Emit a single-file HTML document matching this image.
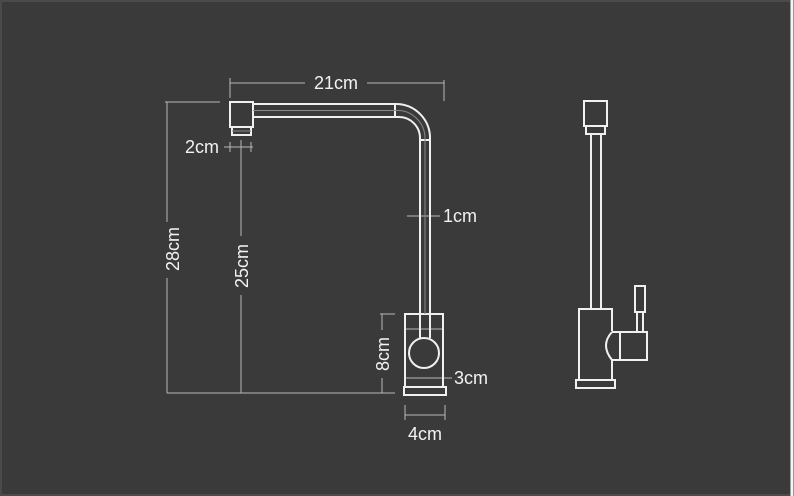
<!DOCTYPE html>
<html><head><meta charset="utf-8"><style>
html,body{margin:0;padding:0;background:#3a3a3a;}
svg{display:block;}
text{font-family:"Liberation Sans",sans-serif;fill:#f2f2f2;font-size:18px;}
</style></head><body>
<svg width="794" height="496" viewBox="0 0 794 496" xmlns="http://www.w3.org/2000/svg">
<rect x="0" y="0" width="794" height="496" fill="#3a3a3a"/>
<rect x="0.5" y="0.5" width="791" height="495" fill="none" stroke="#4a4a4a" stroke-width="3"/>
<line x1="792" y1="0" x2="792" y2="496" stroke="#f5f5f5" stroke-width="3"/>
<g fill="none" stroke="#b8b8b8" stroke-width="1">
 <line x1="230" y1="83" x2="305" y2="83"/><line x1="367" y1="83" x2="444" y2="83"/>
 <line x1="230" y1="78" x2="230" y2="98"/><line x1="444" y1="80" x2="444" y2="101"/>
 <line x1="165" y1="102" x2="220" y2="102"/>
 <line x1="167" y1="102" x2="167" y2="222"/><line x1="167" y1="278" x2="167" y2="393"/>
 <line x1="167" y1="393" x2="395" y2="393"/>
 <line x1="241" y1="140" x2="241" y2="236"/><line x1="241" y1="295" x2="241" y2="393"/>
 <line x1="224" y1="147" x2="253" y2="147"/>
 <line x1="230" y1="142" x2="230" y2="152"/><line x1="251" y1="142" x2="251" y2="152"/>
 <line x1="407" y1="216" x2="440" y2="216"/>
 <line x1="380" y1="314" x2="395" y2="314"/>
 <line x1="382" y1="314" x2="382" y2="330"/><line x1="382" y1="378" x2="382" y2="393"/>
 <line x1="405" y1="378" x2="452" y2="378"/>
 <line x1="405" y1="329" x2="443" y2="329"/>
 <line x1="405" y1="405" x2="405" y2="420"/><line x1="445" y1="405" x2="445" y2="420"/>
 <line x1="405" y1="415" x2="445" y2="415"/>
</g>
<g fill="none" stroke="#f0f0f0" stroke-width="2">
 <rect x="230" y="102" width="23" height="25"/>
 <rect x="232" y="127" width="19" height="8"/>
 <path d="M253 104 H396 A34 34 0 0 1 430 138 V314"/>
 <path d="M253 117 H399 A21 21 0 0 1 420 138 V314"/>
 <line x1="395" y1="104" x2="395" y2="117"/>
 <line x1="420" y1="140" x2="430" y2="140"/>
 <rect x="405" y="314" width="38" height="73"/>
 <rect x="404" y="387" width="42" height="8"/>
 <line x1="420" y1="314" x2="420" y2="338"/><line x1="430" y1="314" x2="430" y2="338"/>
 <circle cx="424" cy="353" r="15"/>
 <rect x="584" y="101" width="23" height="25"/>
 <rect x="586" y="126" width="19" height="8"/>
 <line x1="591" y1="134" x2="591" y2="309"/><line x1="601" y1="134" x2="601" y2="309"/>
 <path d="M612 331 V309 H579 V380 H612 V360"/>
 <rect x="576" y="380" width="39" height="8"/>
 <path d="M612 332 H620 M612 332 Q600 345 612 360 H620"/>
 <rect x="620" y="332" width="27" height="28"/>
 <rect x="635" y="286" width="10" height="26"/>
 <line x1="637" y1="312" x2="637" y2="332"/><line x1="643" y1="312" x2="643" y2="332"/>
</g>
<g stroke="#8a8a8a" stroke-width="1" fill="none">
 <line x1="253" y1="110.5" x2="395" y2="110.5"/>
 <path d="M395 110.5 A28 28 0 0 1 425 138 V314"/>
 <line x1="232" y1="131" x2="251" y2="131"/>
</g>
<text x="336" y="89" text-anchor="middle">21cm</text>
<text x="202" y="153" text-anchor="middle">2cm</text>
<text x="443" y="222">1cm</text>
<text x="454" y="384">3cm</text>
<text x="425" y="440" text-anchor="middle">4cm</text>
<text transform="translate(179,249) rotate(-90)" text-anchor="middle">28cm</text>
<text transform="translate(248,266) rotate(-90)" text-anchor="middle">25cm</text>
<text transform="translate(389,354) rotate(-90)" text-anchor="middle">8cm</text>
</svg>
</body></html>
